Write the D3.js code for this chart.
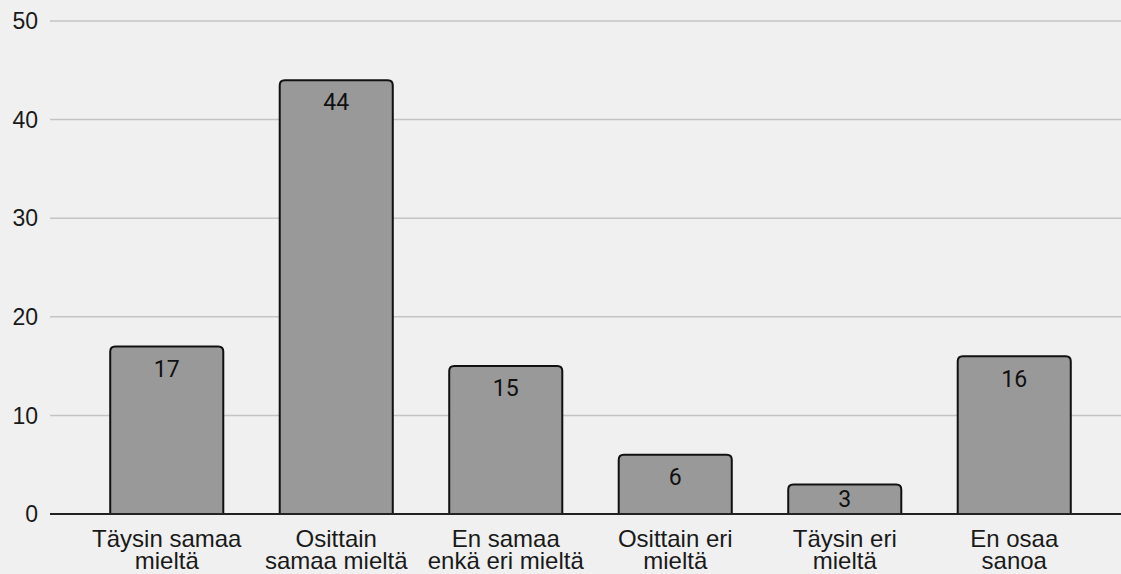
<!DOCTYPE html>
<html>
<head>
<meta charset="utf-8">
<script src="https://cdn.jsdelivr.net/npm/d3@7"></script>
<style>
  body { margin: 0; background: #f0f0f0; }
  svg { display: block; }
</style>
</head>
<body>
<svg width="1121" height="574"></svg>
<script>
// answers and counts
var categories = [
  ["Täysin samaa", "mieltä"],
  ["Osittain", "samaa mieltä"],
  ["En samaa", "enkä eri mieltä"],
  ["Osittain eri", "mieltä"],
  ["Täysin eri", "mieltä"],
  ["En osaa", "sanoa"]
];
var counts = [17, 44, 15, 6, 3, 16];
var yTicks = [0, 10, 20, 30, 40, 50];

var svg = d3.select("svg"),
    width = +svg.attr("width"),
    height = +svg.attr("height");

var plotLeft = 50, plotRight = width, plotTop = 21, plotBottom = 514;

var x = d3.scaleBand()
    .domain(d3.range(categories.length))
    .range([82, 1099])
    .paddingInner(0.333)
    .paddingOuter(0.1665);

var y = d3.scaleLinear()
    .domain([0, 50])
    .range([plotBottom, plotTop]);

// grid
svg.append("g")
  .selectAll("line")
  .data(yTicks.filter(function(d) { return d > 0; }))
  .enter().append("line")
  .attr("x1", plotLeft).attr("x2", plotRight)
  .attr("y1", function(d) { return y(d); })
  .attr("y2", function(d) { return y(d); })
  .attr("stroke", "#c4c4c4")
  .attr("stroke-width", 1.5);

// tick labels
svg.append("g")
  .selectAll("text")
  .data(yTicks)
  .enter().append("text")
  .attr("x", 38)
  .attr("y", function(d) { return y(d); })
  .attr("dy", "0.36em")
  .attr("text-anchor", "end")
  .style("font-family", "Liberation Sans, Arial, sans-serif")
  .style("font-size", "23px")
  .style("fill", "#1a1a1a")
  .text(function(d) { return d; });

// bars with rounded tops
function barPath(d, i) {
  var x0 = x(i), x1 = x(i) + x.bandwidth(), y0 = y(d), y1 = y(0), r = 5;
  return "M" + x0 + "," + y1 +
    "V" + (y0 + r) +
    "Q" + x0 + "," + y0 + " " + (x0 + r) + "," + y0 +
    "H" + (x1 - r) +
    "Q" + x1 + "," + y0 + " " + x1 + "," + (y0 + r) +
    "V" + y1;
}

svg.append("g")
  .selectAll("path")
  .data(counts)
  .enter().append("path")
  .attr("d", barPath)
  .attr("fill", "#999999")
  .attr("stroke", "#111")
  .attr("stroke-width", 2);

// value labels, kept inside short bars
svg.append("g")
  .selectAll("text")
  .data(counts)
  .enter().append("text")
  .attr("x", function(d, i) { return x(i) + x.bandwidth() / 2; })
  .attr("y", function(d) { return Math.min(y(d) + 22, (y(d) + y(0)) / 2); })
  .attr("dy", "0.36em")
  .attr("text-anchor", "middle")
  .style("font-family", "Roboto, sans-serif")
  .style("font-size", "23px")
  .style("fill", "#111")
  .text(function(d) { return d; });

// baseline
svg.append("line")
  .attr("x1", plotLeft).attr("x2", plotRight)
  .attr("y1", y(0)).attr("y2", y(0))
  .attr("stroke", "#222")
  .attr("stroke-width", 2);

// category labels
var cat = svg.append("g")
  .selectAll("text")
  .data(categories)
  .enter().append("text")
  .attr("x", function(d, i) { return x(i) + x.bandwidth() / 2; })
  .attr("y", 547)
  .attr("text-anchor", "middle")
  .style("font-family", "Liberation Sans, Arial, sans-serif")
  .style("font-size", "24px")
  .style("fill", "#1a1a1a");

cat.selectAll("tspan")
  .data(function(d) { return d; })
  .enter().append("tspan")
  .attr("x", function() { return d3.select(this.parentNode).attr("x"); })
  .attr("dy", function(d, i) { return i ? 22 : 0; })
  .text(function(d) { return d; });
</script>
</body>
</html>
